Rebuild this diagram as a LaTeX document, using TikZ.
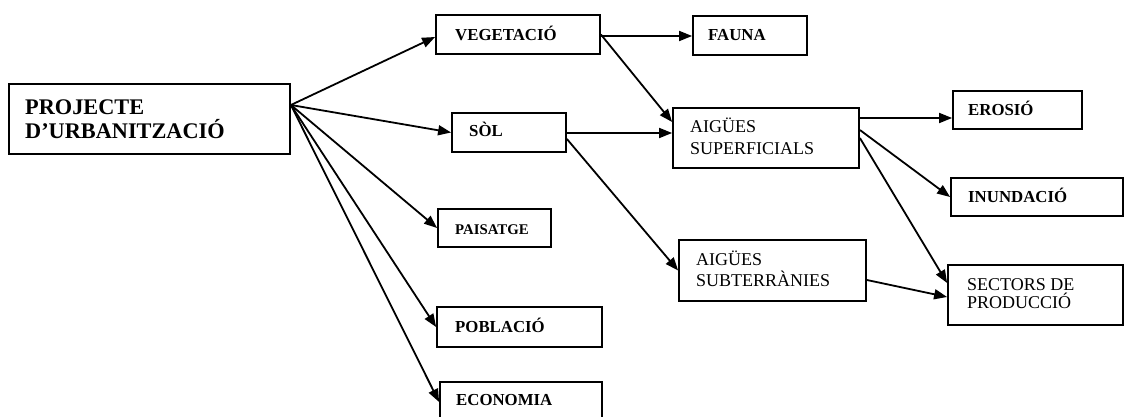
\documentclass[tikz,border=0pt]{standalone}
\usepackage{fontspec}
\setmainfont{Liberation Serif}
\usetikzlibrary{arrows.meta,calc}
\begin{document}
\begin{tikzpicture}[x=1pt,y=-1pt,
 box/.style={draw,line width=1.8pt,rectangle,inner sep=0pt},
 bt/.style={anchor=base west,inner sep=0pt,font=\fontsize{16.8}{18}\selectfont\bfseries},
 rt/.style={anchor=base west,inner sep=0pt,font=\fontsize{18}{20}\selectfont},
 pt/.style={anchor=base west,inner sep=0pt,font=\fontsize{22.3}{24}\selectfont\bfseries},
 arr/.style={line width=1.8pt,-{Triangle[length=13pt,width=10pt]}}]
\useasboundingbox (0,0) rectangle (1125,417);
\clip (0,0) rectangle (1125,417);
% boxes
\node[box,minimum width=281pt,minimum height=70pt] (proj) at (149.5,119) {};
\node[box,minimum width=164pt,minimum height=39pt] (veg) at (518,34.5) {};
\node[box,minimum width=114pt,minimum height=39pt] (fauna) at (750,35.5) {};
\node[box,minimum width=114pt,minimum height=39pt] (sol) at (509,132.5) {};
\node[box,minimum width=186pt,minimum height=60pt] (aigsup) at (766,138) {};
\node[box,minimum width=113pt,minimum height=38pt] (pais) at (494.5,228) {};
\node[box,minimum width=187pt,minimum height=61pt] (subt) at (772.5,270.5) {};
\node[box,minimum width=165pt,minimum height=40pt] (pobl) at (519.5,327) {};
\node[box,minimum width=162pt,minimum height=40pt] (econ) at (521,402) {};
\node[box,minimum width=129pt,minimum height=38pt] (eros) at (1017.5,110) {};
\node[box,minimum width=172pt,minimum height=38pt] (inund) at (1037,197) {};
\node[box,minimum width=175pt,minimum height=60pt] (sect) at (1035.5,295) {};
% texts
\node[pt] (tproj1) at (25,115) {PROJECTE};
\node[pt] (tproj2) at (25,139) {D’URBANITZACIÓ};
\node[bt] (tveg) at (455,40.7) {VEGETACIÓ};
\node[bt] (tfauna) at (708,40.7) {FAUNA};
\node[bt] (tsol) at (469,136.7) {SÒL};
\node[rt] (tsup1) at (690,133) {AIGÜES};
\node[rt] (tsup2) at (690,155) {SUPERFICIALS};
\node[bt,font=\fontsize{14.8}{16}\selectfont\bfseries] (tpais) at (455,234) {PAISATGE};
\node[rt] (tsub1) at (696,265) {AIGÜES};
\node[rt] (tsub2) at (696,286) {SUBTERRÀNIES};
\node[bt] (tpobl) at (455,332.7) {POBLACIÓ};
\node[bt] (tecon) at (456,405) {ECONOMIA};
\node[bt] (teros) at (968,116) {EROSIÓ};
\node[bt] (tinund) at (968,202) {INUNDACIÓ};
\node[rt] (tsect1) at (967,290) {SECTORS DE};
\node[rt] (tsect2) at (967,308) {PRODUCCIÓ};
% connectors
\coordinate (po) at (proj.east |- 0,105);
\draw[arr] (po) -- (veg.west |- 0,37);
\draw[arr] (po) -- (sol.west);
\draw[arr] (po) -- (pais.west);
\draw[arr] (po) -- (pobl.west);
\draw[arr] (po) -- (econ.west);
\draw[arr] (veg.east |- 0,36) -- (fauna.west |- 0,36);
\draw[arr] (veg.east) -- (aigsup.west |- 0,122);
\draw[arr] (sol.east |- 0,133) -- (aigsup.west |- 0,133);
\draw[arr] (sol.east |- 0,139) -- (subt.west);
\draw[arr] (aigsup.east |- 0,118) -- (eros.west |- 0,118);
\draw[arr] (aigsup.east |- 0,130) -- (inund.west);
\draw[arr] (aigsup.east |- 0,138) -- (sect.west |- 0,283);
\draw[arr] (subt.east |- 0,280) -- (sect.west |- 0,297);
\end{tikzpicture}
\end{document}
